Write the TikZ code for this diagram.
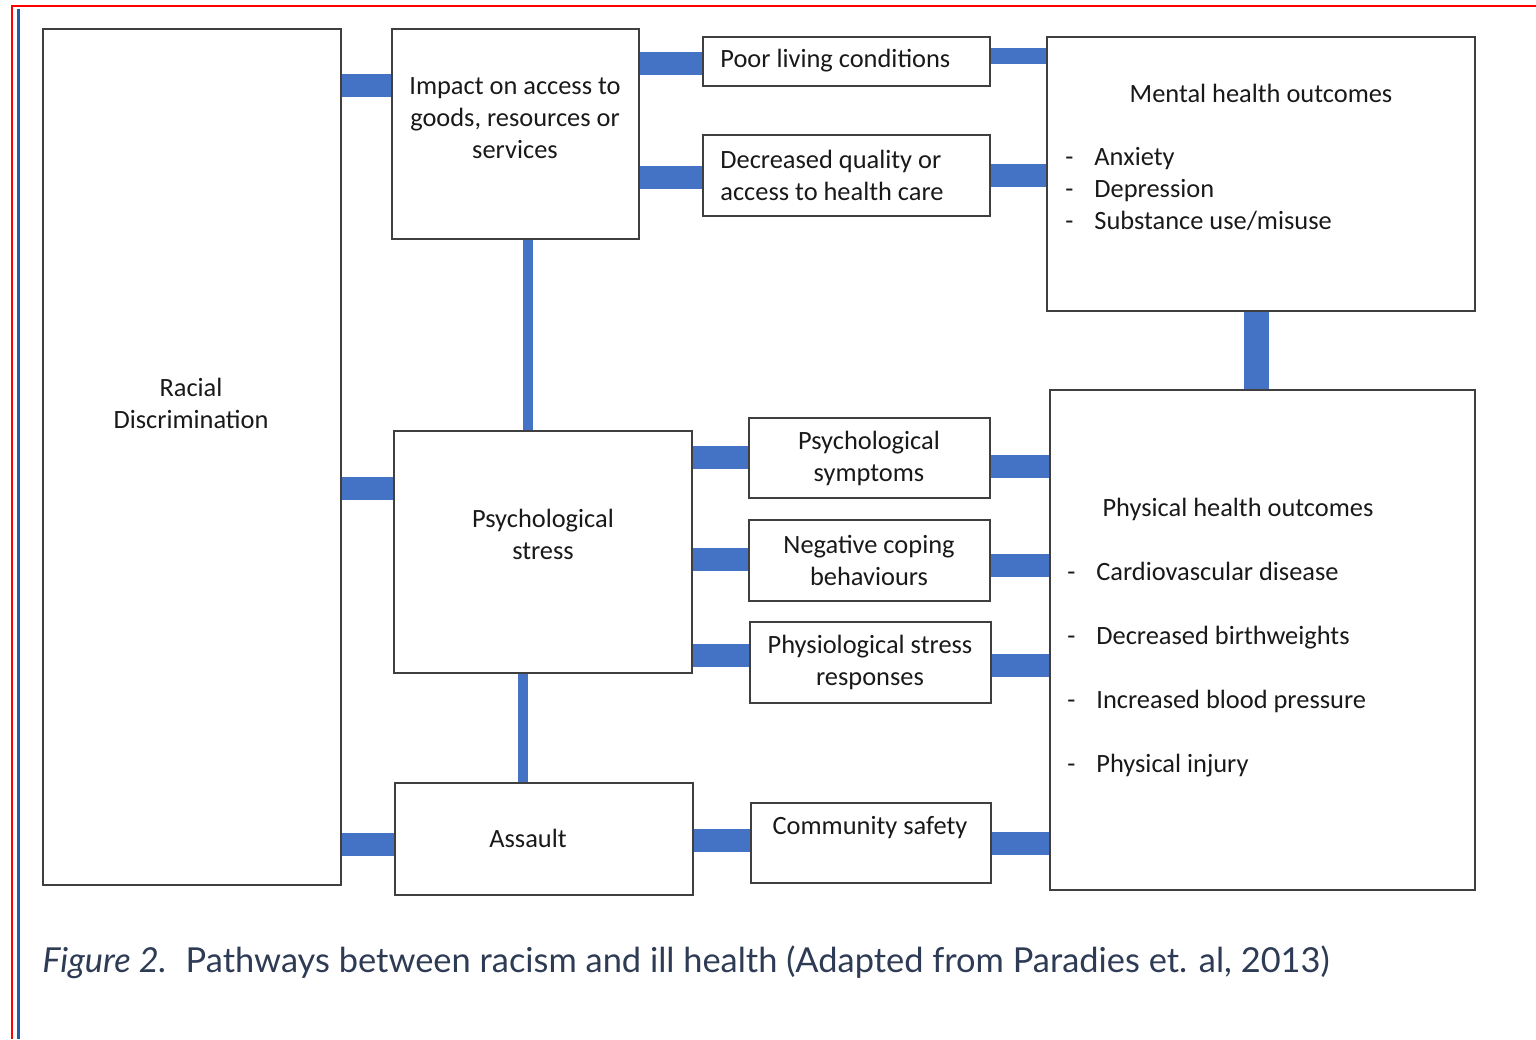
\documentclass[tikz,border=0pt]{standalone}
\usepackage{fontspec}
\setmainfont{Carlito}
\newfontfamily\captionfont{Lato}
\usetikzlibrary{fit,positioning}

\definecolor{barblue}{HTML}{4472C4}
\definecolor{boxgray}{HTML}{3F3F3F}
\definecolor{edgeblue}{HTML}{1F5FA8}
\definecolor{capblue}{HTML}{2E3B55}

\begin{document}
\begin{tikzpicture}[
    x=0.5pt, y=-0.5pt,
    box/.style={draw=boxgray, line width=1pt, inner sep=0pt, fit={#1}},
    txt/.style={inner sep=0pt, align=center, text=black!90, font=\fontsize{13.2}{16}\selectfont},
    link/.style={draw=barblue, line width=11.5pt},
    thinlink/.style={draw=barblue, line width=5pt}
]
\useasboundingbox (0,0) rectangle (1536,1039);

% page edges
\draw[red, line width=1.2pt] (12,1039) -- (12,6) -- (1536,6);
\draw[edgeblue, line width=1.8pt] (18.5,9) -- (18.5,1039);

% boxes
\node[box={(43,29) (341,885)}] (racial) {};
\node[box={(392,29) (639,239)}] (impact) {};
\node[box={(703,37) (990,86)}] (poor) {};
\node[box={(703,135) (990,216)}] (quality) {};
\node[box={(1047,37) (1475,311)}] (mental) {};
\node[box={(394,431) (692,673)}] (stress) {};
\node[box={(749,418) (990,498)}] (symptoms) {};
\node[box={(749,520) (990,601)}] (coping) {};
\node[box={(750,622) (991,703)}] (physio) {};
\node[box={(395,783) (693,895)}] (assault) {};
\node[box={(751,803) (991,883)}] (safety) {};
\node[box={(1050,390) (1475,890)}] (physical) {};

% texts
\node[txt] (racialtxt) at (191,403) {Racial\\Discrimination};
\node[txt] (impacttxt) at (515,118) {Impact on access to\\goods, resources or\\services};
\node[txt, anchor=west] (poortxt) at (720,61) {Poor living conditions};
\node[txt, anchor=west, align=left] (qualitytxt) at (720,175) {Decreased quality or\\access to health care};
\node[txt] (mentaltxt) at (1261,93) {Mental health outcomes};
\node[txt, anchor=base west] (mentallist) at (1065,165) {%
  \begin{tabular}[t]{@{}p{14.5pt}@{}l@{}}
  - & Anxiety\\
  - & Depression\\
  - & Substance use/misuse
  \end{tabular}};
\node[txt] (stresstxt) at (543,534) {Psychological\\stress};
\node[txt] (symptomstxt) at (869,458) {Psychological\\symptoms};
\node[txt] (copingtxt) at (869,560) {Negative coping\\behaviours};
\node[txt] (physiotxt) at (870,662) {Physiological stress\\responses};
\node[txt] (assaulttxt) at (528,838) {Assault};
\node[txt] (safetytxt) at (870,828) {Community safety};
\node[txt] (physicaltxt) at (1238,509) {Physical health outcomes};
\node[txt, anchor=base west] (physicallist) at (1067,580) {%
  \begin{tabular}[t]{@{}p{14.5pt}@{}l@{}}
  - & Cardiovascular disease\\[16pt]
  - & Decreased birthweights\\[16pt]
  - & Increased blood pressure\\[16pt]
  - & Physical injury
  \end{tabular}};

% connectors
\draw[link] (racial.east |- 0,85) -- (impact.west |- 0,85);
\draw[link] (racial.east |- 0,488) -- (stress.west |- 0,488);
\draw[link] (racial.east |- 0,844) -- (assault.west |- 0,844);

\draw[link] (impact.east |- 0,63) -- (poor.west |- 0,63);
\draw[link] (impact.east |- 0,177) -- (quality.west |- 0,177);
\draw[link, line width=8pt] (poor.east |- 0,56) -- (mental.west |- 0,56);
\draw[link] (quality.east |- 0,175) -- (mental.west |- 0,175);

\draw[thinlink] (impact.south -| 528,0) -- (stress.north -| 528,0);
\draw[thinlink] (stress.south -| 523,0) -- (assault.north -| 523,0);
\draw[link, line width=12.5pt] (mental.south -| 1256,0) -- (physical.north -| 1256,0);

\draw[link] (stress.east |- 0,457) -- (symptoms.west |- 0,457);
\draw[link] (stress.east |- 0,559) -- (coping.west |- 0,559);
\draw[link] (stress.east |- 0,655) -- (physio.west |- 0,655);
\draw[link] (symptoms.east |- 0,466) -- (physical.west |- 0,466);
\draw[link] (coping.east |- 0,565) -- (physical.west |- 0,565);
\draw[link] (physio.east |- 0,665) -- (physical.west |- 0,665);
\draw[link] (assault.east |- 0,840) -- (safety.west |- 0,840);
\draw[link] (safety.east |- 0,843) -- (physical.west |- 0,843);

% caption
\node[anchor=base west, inner sep=0pt, text=capblue, font=\captionfont\fontsize{17.2}{20}\selectfont]
  (caption) at (42,972) {\textit{Figure 2.}\hspace{0.55em}Pathways between racism and ill health (Adapted from Paradies et. al, 2013)};
\end{tikzpicture}
\end{document}
